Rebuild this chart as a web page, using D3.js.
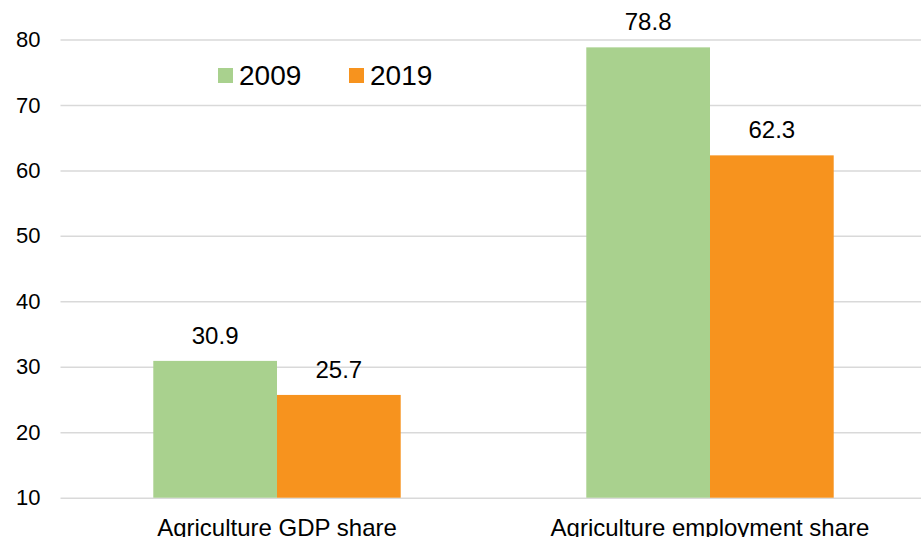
<!DOCTYPE html>
<html><head><meta charset="utf-8">
<script src="https://cdn.jsdelivr.net/npm/d3@7"></script>
<style>
html,body{margin:0;padding:0;background:#fff;overflow:hidden;}
svg{display:block;font-family:"Liberation Sans",Arial,sans-serif;}
</style></head>
<body>
<svg id="chart" width="921" height="537"></svg>
<script>
const categories = ["Agriculture GDP share", "Agriculture employment share"];
const seriesNames = ["2009", "2019"];
const values2009 = [30.9, 78.8];
const values2019 = [25.7, 62.3];
const yTicks = [10, 20, 30, 40, 50, 60, 70, 80];
const colors = ["#A9D18E", "#F7931E"];

(function () {
const series = [values2009, values2019];
const svg = d3.select("#chart");
const mLeft = 60.5, mRight = 926.5, mTop = 39.5, mBottom = 497.7;

const x = d3.scaleBand().domain(categories).range([mLeft, mRight]).paddingInner(0.4286).paddingOuter(0.2143);
const xs = d3.scaleBand().domain(seriesNames).range([0, x.bandwidth()]);
const y = d3.scaleLinear().domain([10, 80]).range([mBottom, mTop]);

// gridlines
const yAxis = d3.axisLeft(y).tickValues(yTicks).tickSize(-(mRight - mLeft)).tickPadding(20).tickFormat(d3.format("d"));
const gAx = svg.append("g").attr("transform", `translate(${mLeft},0)`).call(yAxis);
gAx.select(".domain").remove();
gAx.selectAll(".tick line").attr("stroke", "#D9D9D9").attr("stroke-width", 1.5);
gAx.selectAll(".tick text").attr("fill", "#000").attr("font-size", 22).attr("font-family", "Liberation Sans, Arial, sans-serif");

// bars
const groups = svg.append("g").selectAll("g").data(categories).join("g")
  .attr("transform", d => `translate(${x(d)},0)`);
seriesNames.forEach((s, si) => {
  groups.append("rect")
    .attr("x", xs(s))
    .attr("width", xs.bandwidth())
    .attr("y", (d, i) => y(series[si][i]))
    .attr("height", (d, i) => y(10) - y(series[si][i]))
    .attr("fill", colors[si]);
  groups.append("text")
    .attr("x", xs(s) + xs.bandwidth() / 2)
    .attr("y", (d, i) => y(series[si][i]) - 17)
    .attr("text-anchor", "middle")
    .attr("font-size", 24)
    .attr("fill", "#000")
    .text((d, i) => series[si][i].toFixed(1));
});

// category labels
svg.append("g").selectAll("text").data(categories).join("text")
  .attr("x", d => x(d) + x.bandwidth() / 2)
  .attr("y", 536)
  .attr("text-anchor", "middle")
  .attr("font-size", 24)
  .attr("fill", "#000")
  .text(d => d);

// legend
const legendX = [218, 349];
const lg = svg.append("g").selectAll("g").data(seriesNames).join("g")
  .attr("transform", (d, i) => `translate(${legendX[i]},68)`);
lg.append("rect").attr("width", 15).attr("height", 15).attr("fill", (d, i) => colors[i]);
lg.append("text").attr("x", 21).attr("y", 17).attr("font-size", 28).attr("fill", "#000").text(d => d);
})();
</script>
</body></html>
